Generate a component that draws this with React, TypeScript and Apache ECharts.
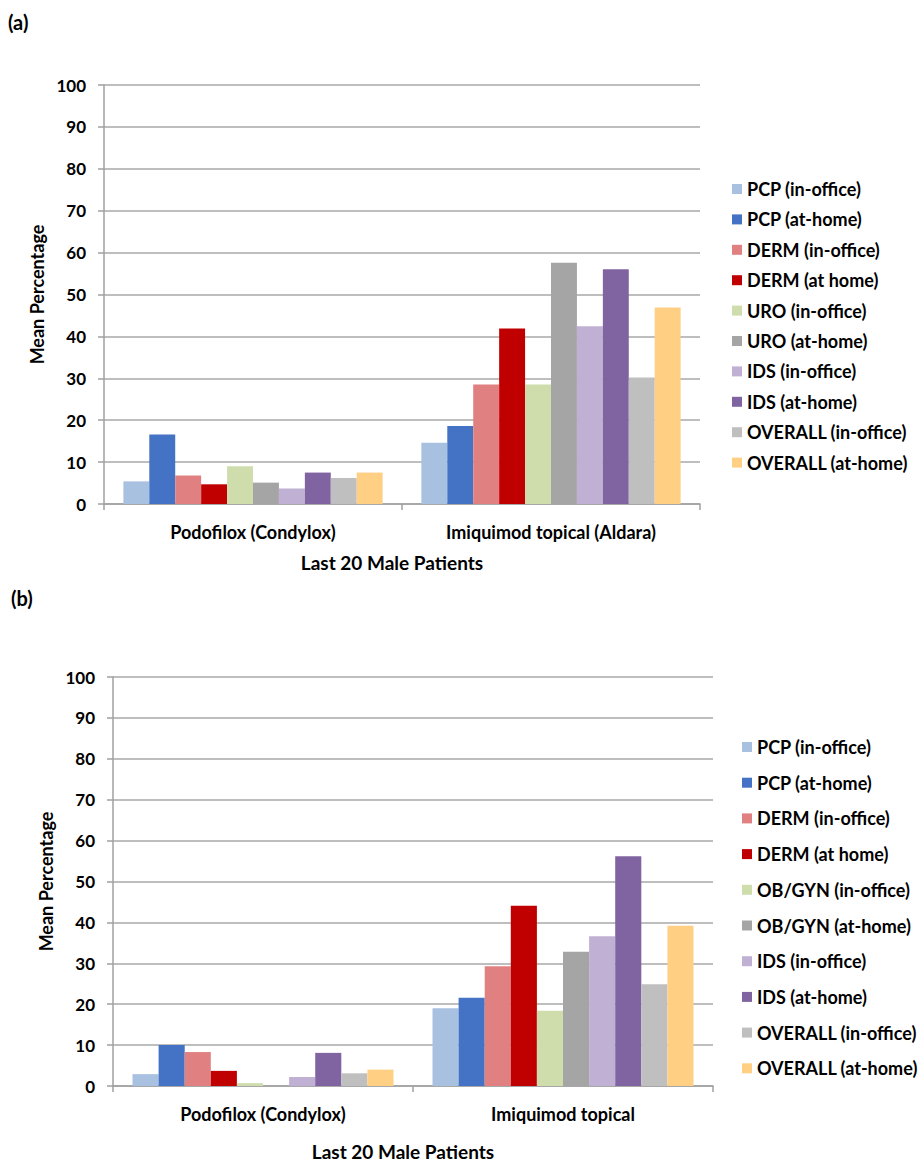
import React, { useEffect, useRef } from "react";
import * as echarts from "echarts";

const categoriesA = ["Podofilox (Condylox)", "Imiquimod topical (Aldara)"];
const categoriesB = ["Podofilox (Condylox)", "Imiquimod topical"];

const seriesNamesA = [
  "PCP (in-office)",
  "PCP (at-home)",
  "DERM (in-office)",
  "DERM (at home)",
  "URO (in-office)",
  "URO (at-home)",
  "IDS (in-office)",
  "IDS (at-home)",
  "OVERALL (in-office)",
  "OVERALL (at-home)",
];
const seriesNamesB = [
  "PCP (in-office)",
  "PCP (at-home)",
  "DERM (in-office)",
  "DERM (at home)",
  "OB/GYN (in-office)",
  "OB/GYN (at-home)",
  "IDS (in-office)",
  "IDS (at-home)",
  "OVERALL (in-office)",
  "OVERALL (at-home)",
];

// values per series: [Podofilox, Imiquimod]
const valuesA = [
  [5.4, 14.6],
  [16.6, 18.6],
  [6.8, 28.5],
  [4.7, 41.9],
  [9.0, 28.5],
  [5.1, 57.6],
  [3.7, 42.4],
  [7.5, 56.0],
  [6.2, 30.2],
  [7.5, 46.9],
];
const valuesB = [
  [2.9, 19.0],
  [10.0, 21.6],
  [8.3, 29.3],
  [3.7, 44.1],
  [0.7, 18.4],
  [0, 32.8],
  [2.2, 36.6],
  [8.1, 56.2],
  [3.1, 24.9],
  [4.0, 39.2],
];

const colors = [
  "#a9c1e0",
  "#4472c4",
  "#e08080",
  "#c00000",
  "#cfddad",
  "#a5a5a5",
  "#c0b1d4",
  "#8064a2",
  "#bfbfbf",
  "#ffd083",
];

const yAxisTitle = "Mean Percentage";
const xAxisTitle = "Last 20 Male Patients";

const FONT = "Lato, 'Open Sans', sans-serif";

export default function App() {
  const ref = useRef<HTMLDivElement>(null);

  useEffect(() => {
    if (!ref.current) return;
    const chart = echarts.init(ref.current, null, { renderer: "svg" });

    const labelStyle = {
      color: "#000",
      fontWeight: "bold" as const,
      fontSize: 18,
      fontFamily: FONT,
    };

    const makeY = (gridIndex: number) => ({
      type: "value" as const,
      gridIndex,
      min: 0,
      max: 100,
      interval: 10,
      name: yAxisTitle,
      nameLocation: "middle" as const,
      nameGap: 66,
      nameTextStyle: { ...labelStyle, fontSize: 18, verticalAlign: "middle" },
      axisLine: { show: true, lineStyle: { color: "#a0a0a0", width: 1.5 } },
      axisTick: { show: true, length: 6, lineStyle: { color: "#a0a0a0", width: 1.5 } },
      axisLabel: { ...labelStyle, fontSize: 17, margin: 18 },
      splitLine: { show: true, lineStyle: { color: "#a8a8a8", width: 1.5 } },
    });

    const makeX = (gridIndex: number, data: string[], nameGap: number) => ({
      type: "category" as const,
      gridIndex,
      data,
      name: xAxisTitle,
      nameLocation: "middle" as const,
      nameGap,
      nameMoveOverlap: false,
      nameTextStyle: {
        ...labelStyle,
        fontSize: 19,
        verticalAlign: "middle",
        padding: [0, 20, 0, 0],
      },
      axisLine: { show: true, lineStyle: { color: "#a0a0a0", width: 1.5 } },
      axisTick: { show: true, length: 6, lineStyle: { color: "#a0a0a0", width: 1.5 } },
      axisLabel: { ...labelStyle, margin: 19 },
      splitLine: { show: false },
    });

    const series: any[] = [];
    seriesNamesA.forEach((name, i) => {
      series.push({
        type: "bar",
        name,
        xAxisIndex: 0,
        yAxisIndex: 0,
        data: valuesA[i],
        barGap: "0%",
        barCategoryGap: "13%",
        itemStyle: { color: colors[i] },
      });
    });
    seriesNamesB.forEach((name, i) => {
      series.push({
        type: "bar",
        name,
        xAxisIndex: 1,
        yAxisIndex: 1,
        data: valuesB[i],
        barGap: "0%",
        barCategoryGap: "13%",
        itemStyle: { color: colors[i] },
      });
    });

    const legendText = { ...labelStyle, fontSize: 18, lineHeight: 18 };

    chart.setOption({
      animation: false,
      color: colors,
      textStyle: { fontFamily: FONT },
      grid: [
        { left: 104, top: 85, width: 596, height: 419, containLabel: false },
        { left: 113, top: 677, width: 600, height: 409, containLabel: false },
      ],
      xAxis: [makeX(0, categoriesA, 58), makeX(1, categoriesB, 65)],
      yAxis: [makeY(0), makeY(1)],
      legend: [
        {
          orient: "vertical",
          left: 727,
          top: 175,
          itemWidth: 10,
          itemHeight: 10,
          itemGap: 12.4,
          icon: "rect",
          selectedMode: false,
          textStyle: legendText,
          data: seriesNamesA,
        },
        {
          orient: "vertical",
          left: 737,
          top: 733,
          itemWidth: 10,
          itemHeight: 10,
          itemGap: 17.7,
          icon: "rect",
          selectedMode: false,
          textStyle: legendText,
          data: seriesNamesB,
        },
      ],
      graphic: [
        {
          type: "text",
          left: 8,
          top: 12,
          style: { text: "(a)", font: `bold 20px ${FONT}`, fill: "#000" },
        },
        {
          type: "text",
          left: 11,
          top: 588,
          style: { text: "(b)", font: `bold 20px ${FONT}`, fill: "#000" },
        },
      ],
      series,
    });

    return () => chart.dispose();
  }, []);

  return (
    <div
      ref={ref}
      style={{ position: "absolute", left: 0, top: 0, width: 921, height: 1162 }}
    />
  );
}
